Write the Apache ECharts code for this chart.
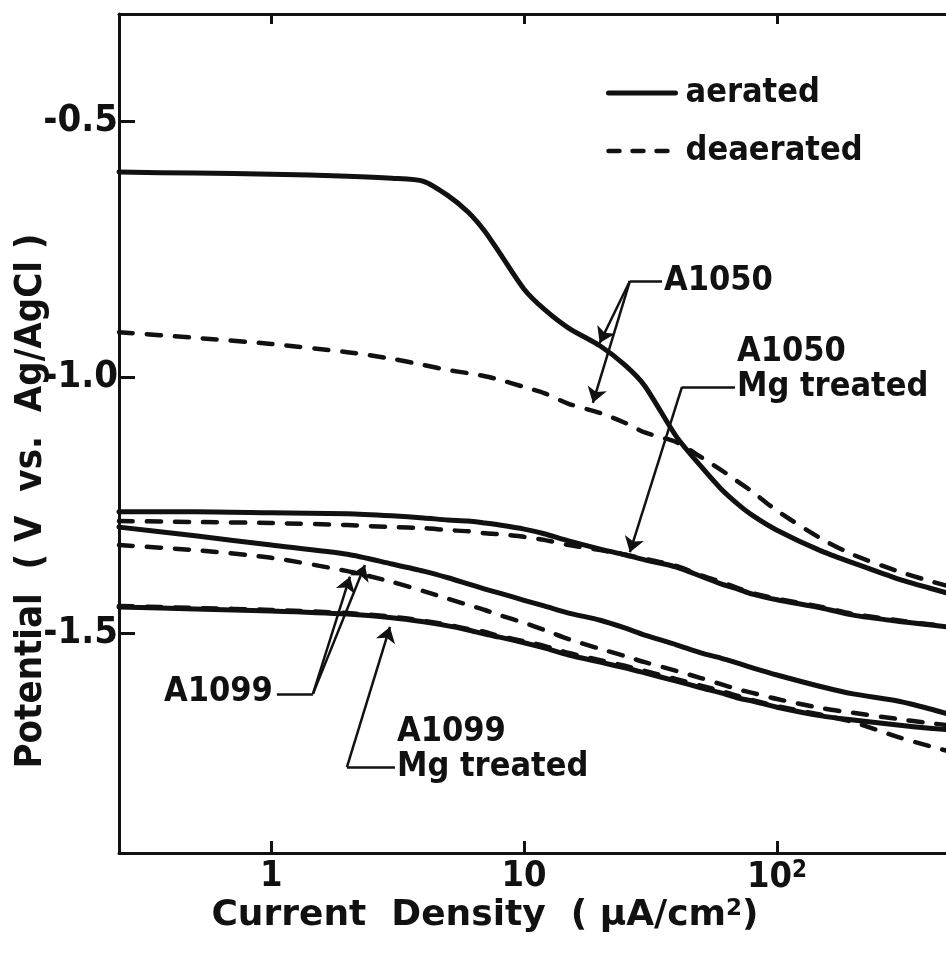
<!DOCTYPE html>
<html>
<head>
<meta charset="utf-8">
<script src="https://cdn.jsdelivr.net/npm/echarts@6/dist/echarts.min.js"></script>
<style>
  html, body { margin: 0; padding: 0; background: #fff; }
  #chart { width: 946px; height: 953px; }
</style>
</head>
<body>
<div id="chart"></div>
<script>
// Current density sample points (µA/cm²), shared by every polarization curve
const currentDensity = [0.25, 0.5, 1, 2, 3, 4, 5, 6, 7, 8, 10, 12, 15, 20, 25, 30, 40, 50, 60, 70, 80, 100, 150, 200, 300, 400, 560];

// Potential (V vs. Ag/AgCl) for each alloy / treatment / aeration state
const a1050Aerated = [-0.599, -0.601, -0.603, -0.607, -0.611, -0.617, -0.645, -0.677, -0.715, -0.757, -0.828, -0.867, -0.904, -0.939, -0.976, -1.017, -1.116, -1.174, -1.218, -1.248, -1.270, -1.299, -1.340, -1.363, -1.394, -1.412, -1.432];
const a1050Deaerated = [-0.912, -0.923, -0.935, -0.951, -0.964, -0.976, -0.986, -0.992, -0.998, -1.005, -1.019, -1.031, -1.052, -1.070, -1.089, -1.108, -1.127, -1.156, -1.181, -1.204, -1.224, -1.261, -1.316, -1.347, -1.379, -1.398, -1.418];
const a1050MgAerated = [-1.263, -1.263, -1.265, -1.267, -1.271, -1.275, -1.279, -1.281, -1.285, -1.289, -1.297, -1.306, -1.320, -1.336, -1.347, -1.357, -1.371, -1.389, -1.404, -1.414, -1.424, -1.435, -1.451, -1.465, -1.477, -1.484, -1.492];
const a1050MgDeaerated = [-1.281, -1.283, -1.285, -1.289, -1.293, -1.295, -1.299, -1.301, -1.305, -1.307, -1.312, -1.318, -1.328, -1.338, -1.347, -1.355, -1.369, -1.387, -1.400, -1.412, -1.422, -1.433, -1.449, -1.463, -1.475, -1.483, -1.490];
const a1099Aerated = [-1.293, -1.310, -1.328, -1.346, -1.365, -1.379, -1.392, -1.404, -1.414, -1.422, -1.436, -1.447, -1.461, -1.475, -1.490, -1.504, -1.523, -1.539, -1.549, -1.559, -1.568, -1.582, -1.605, -1.619, -1.633, -1.648, -1.668];
const a1099Deaerated = [-1.328, -1.338, -1.353, -1.379, -1.400, -1.418, -1.433, -1.445, -1.455, -1.465, -1.480, -1.494, -1.512, -1.531, -1.545, -1.557, -1.574, -1.588, -1.600, -1.610, -1.617, -1.629, -1.647, -1.656, -1.668, -1.676, -1.684];
const a1099MgAerated = [-1.449, -1.453, -1.457, -1.463, -1.470, -1.478, -1.486, -1.494, -1.502, -1.508, -1.519, -1.529, -1.543, -1.557, -1.568, -1.578, -1.594, -1.607, -1.617, -1.627, -1.633, -1.645, -1.662, -1.670, -1.680, -1.686, -1.692];
const a1099MgDeaerated = [-1.447, -1.451, -1.455, -1.461, -1.468, -1.476, -1.484, -1.492, -1.498, -1.506, -1.516, -1.525, -1.539, -1.553, -1.564, -1.574, -1.590, -1.603, -1.613, -1.623, -1.631, -1.643, -1.660, -1.674, -1.703, -1.721, -1.740];

// Axis ticks
const xTicks = [1, 10, 100];
const yTicks = [-1.5, -1.0, -0.5];

// Curve callouts, in data coordinates (current density, potential)
const calloutTexts = [
  { name: 'A1050', value: [35.1, -0.812], side: 'right' },
  { name: 'A1050\nMg treated', value: [68.2, -0.986], side: 'right' },
  { name: 'A1099', value: [1.034, -1.615], side: 'left' },
  { name: 'A1099\nMg treated', value: [3.084, -1.729], side: 'right' }
];
const leaderSegments = [
  [[35.1, -0.812], [26.2, -0.812]],
  [[68.2, -1.019], [42.1, -1.019]],
  [[1.053, -1.619], [1.462, -1.619]],
  [[3.084, -1.762], [1.992, -1.762]]
];
const arrowSegments = [
  [[26.2, -0.812], [19.9, -0.933]],
  [[26.2, -0.812], [18.7, -1.050]],
  [[42.1, -1.019], [26.2, -1.342]],
  [[1.462, -1.619], [2.047, -1.390]],
  [[1.462, -1.619], [2.347, -1.367]],
  [[1.992, -1.762], [2.947, -1.488]]
];

const FONT = "'DejaVu Sans Condensed', 'DejaVu Sans', sans-serif";
const TITLE_FONT = "'DejaVu Sans', sans-serif";
const INK = '#111';

const solidStyle = { type: 'solid', width: 5, color: INK, cap: 'round', join: 'round' };
const dashedStyle = { type: [14, 14], width: 4.5, color: INK, cap: 'round', join: 'round' };

function toPairs(values) {
  return currentDensity.map((x, i) => [x, values[i]]);
}

function curve(name, values, style) {
  return {
    type: 'line',
    name: name,
    data: toPairs(values),
    symbol: 'none',
    showSymbol: false,
    smooth: 0.25,
    lineStyle: style,
    itemStyle: { color: INK },
    silent: true,
    z: 3
  };
}

const chart = echarts.init(document.getElementById('chart'), null, { renderer: 'canvas' });

const logAxisBase = {
  type: 'log',
  logBase: 10,
  min: 0.25,
  max: 466,
  splitLine: { show: false },
  minorTick: { show: false },
  axisLine: { show: true, onZero: false, lineStyle: { color: INK, width: 3 } }
};

chart.setOption({
  animation: false,
  backgroundColor: '#fff',
  grid: { left: 119, top: 14, right: 0, bottom: 100, containLabel: false, outerBoundsMode: 'none' },
  legend: {
    data: [
      { name: 'aerated', itemStyle: { opacity: 0 }, lineStyle: Object.assign({}, solidStyle) },
      { name: 'deaerated', itemStyle: { opacity: 0 }, lineStyle: Object.assign({}, dashedStyle, { type: [11, 13] }) }
    ],
    orient: 'vertical',
    left: 601,
    top: 70,
    itemWidth: 67,
    itemHeight: 36,
    itemGap: 22,
    selectedMode: false,
    textStyle: { fontFamily: FONT, fontWeight: 'bold', fontSize: 34, color: INK, lineHeight: 36, padding: [0, 0, 0, 5] }
  },
  xAxis: [
    Object.assign({}, logAxisBase, {
      position: 'bottom',
      axisTick: { show: true, inside: true, length: 12, customValues: xTicks, lineStyle: { color: INK, width: 3 } },
      axisLabel: {
        customValues: xTicks,
        margin: 6,
        color: INK,
        fontFamily: FONT,
        fontWeight: 'bold',
        fontSize: 36,
        formatter: function (v) {
          const e = Math.round(Math.log10(v));
          if (e === 0) return '1';
          if (e === 1) return '10';
          return '10{sup|' + e + '}';
        },
        rich: { sup: { fontSize: 24, fontFamily: FONT, fontWeight: 'bold', color: INK, verticalAlign: 'top', padding: [0, 0, 14, 0] } }
      }
    }),
    Object.assign({}, logAxisBase, {
      position: 'top',
      axisTick: { show: true, inside: true, length: 10, customValues: xTicks, lineStyle: { color: INK, width: 3 } },
      axisLabel: { show: false }
    })
  ],
  yAxis: {
    type: 'value',
    min: -1.93,
    max: -0.29,
    splitLine: { show: false },
    axisLine: { show: true, onZero: false, lineStyle: { color: INK, width: 3 } },
    axisTick: { show: true, inside: true, length: 16, customValues: yTicks, lineStyle: { color: INK, width: 3 } },
    axisLabel: {
      customValues: yTicks,
      margin: 1,
      color: INK,
      fontFamily: FONT,
      fontWeight: 'bold',
      fontSize: 38,
      formatter: function (v) { return v.toFixed(1); }
    }
  },
  series: [
    curve('aerated', a1050Aerated, solidStyle),
    curve('deaerated', a1050Deaerated, dashedStyle),
    curve('aerated', a1050MgAerated, solidStyle),
    curve('deaerated', a1050MgDeaerated, dashedStyle),
    curve('aerated', a1099Aerated, solidStyle),
    curve('deaerated', a1099Deaerated, dashedStyle),
    curve('aerated', a1099MgAerated, solidStyle),
    curve('deaerated', a1099MgDeaerated, dashedStyle),
    {
      type: 'lines',
      name: 'leaders',
      coordinateSystem: 'cartesian2d',
      silent: true,
      symbol: ['none', 'none'],
      lineStyle: { color: INK, width: 2.5, opacity: 1, curveness: 0 },
      data: leaderSegments.map(c => ({ coords: c })),
      z: 4
    },
    {
      type: 'lines',
      name: 'arrows',
      coordinateSystem: 'cartesian2d',
      silent: true,
      symbol: ['none', 'arrow'],
      symbolSize: [9, 15],
      lineStyle: { color: INK, width: 2.5, opacity: 1, curveness: 0 },
      data: arrowSegments.map(c => ({ coords: c })),
      z: 4
    },
    {
      type: 'scatter',
      name: 'callouts',
      silent: true,
      symbol: 'circle',
      symbolSize: 0.1,
      itemStyle: { color: 'rgba(0,0,0,0)', opacity: 1 },
      data: calloutTexts.map(c => ({
        name: c.name,
        value: c.value,
        label: { position: c.side, align: c.side === 'left' ? 'right' : 'left' }
      })),
      label: {
        show: true,
        distance: 2,
        formatter: p => p.name,
        color: INK,
        opacity: 1,
        fontFamily: FONT,
        fontWeight: 'bold',
        fontSize: 34,
        lineHeight: 35
      },
      z: 5
    }
  ],
  graphic: [
    {
      type: 'text',
      x: 31,
      y: 501,
      rotation: Math.PI / 2,
      silent: true,
      style: {
        text: 'Potential  ( V  vs.  Ag/AgCl )',
        fill: INK,
        fontFamily: FONT,
        fontWeight: 'bold',
        fontSize: 38,
        align: 'center',
        verticalAlign: 'middle'
      }
    },
    {
      type: 'text',
      x: 485,
      y: 916,
      silent: true,
      style: {
        text: 'Current  Density  ( μA/cm{sup|2})',
        fill: INK,
        fontFamily: TITLE_FONT,
        fontWeight: 'bold',
        fontSize: 36,
        align: 'center',
        verticalAlign: 'middle',
        rich: { sup: { fontSize: 23, fontFamily: TITLE_FONT, fontWeight: 'bold', fill: INK, verticalAlign: 'top', padding: [0, 0, 12, 0] } }
      }
    }
  ]
});
</script>
</body>
</html>
